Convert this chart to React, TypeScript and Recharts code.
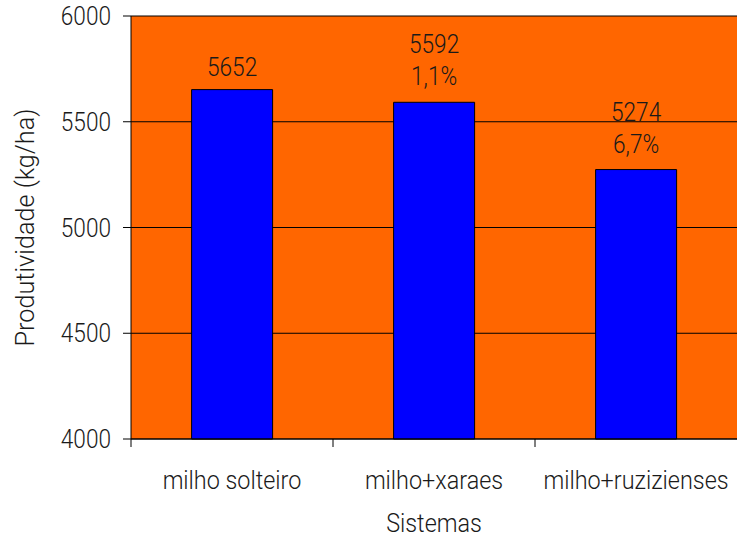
import React from "react";
import { BarChart, Bar, XAxis, YAxis, CartesianGrid, LabelList } from "recharts";

const categories = ["milho solteiro", "milho+xaraes", "milho+ruzizienses"];
const productivity = [5652, 5592, 5274];
const reduction = ["", "1,1%", "6,7%"];
const yTicks = [4000, 4500, 5000, 5500, 6000];

const data = categories.map((c, i) => ({ name: c, value: productivity[i], pct: reduction[i] }));

const FONT = "Roboto, 'DejaVu Sans', sans-serif";
const TEXT = "#1a1a1a";

const T = (props: any) => {
  const { x, y, anchor = "middle", size = 26, sx = 0.87, rotate = 0, children } = props;
  const tf = rotate
    ? `translate(${x},${y}) rotate(${rotate}) scale(${sx},1)`
    : `translate(${x},${y}) scale(${sx},1)`;
  return (
    <text
      x={0}
      y={0}
      transform={tf}
      textAnchor={anchor}
      dominantBaseline="central"
      fill={TEXT}
      fontSize={size}
      fontWeight={300}
      fontFamily={FONT}
    >
      {children}
    </text>
  );
};

const XTick = (props: any) => {
  const { x, y, payload } = props;
  const half = payload && payload.offset ? payload.offset : 101;
  return (
    <g>
      <line x1={x - half} x2={x - half} y1={y} y2={y + 8} stroke="#000" strokeWidth={1} />
      <T x={x} y={y + 41} sx={0.9}>{payload.value}</T>
    </g>
  );
};

const YTick = (props: any) => {
  const { x, y, payload } = props;
  return <T x={x} y={y} anchor="end">{payload.value}</T>;
};

const BarLabel = (props: any) => {
  const { x, y, width, index } = props;
  const cx = x + width / 2;
  const p = reduction[index];
  return (
    <g>
      {p ? (
        <>
          <T x={cx} y={y - 58}>{productivity[index]}</T>
          <T x={cx} y={y - 26}>{p}</T>
        </>
      ) : (
        <T x={cx} y={y - 23}>{productivity[index]}</T>
      )}
    </g>
  );
};

export default function App() {
  return (
    <div style={{ position: "absolute", left: 0, top: 0 }}>
      <BarChart
        width={737}
        height={538}
        data={data}
        margin={{ top: 16, right: 0, bottom: 0, left: 0 }}
        barCategoryGap="30%"
      >
        <CartesianGrid vertical={false} stroke="#000" fill="#FF6600" fillOpacity={1} />
        <XAxis
          dataKey="name"
          height={99}
          stroke="#000"
          tickLine={false}
          tickSize={0}
          tickMargin={0}
          interval={0}
          tick={<XTick />}
          label={{
            content: (p: any) => {
              const vb = p.viewBox;
              return <T x={vb.x + vb.width / 2} y={523} sx={0.9}>Sistemas</T>;
            },
          }}
        />
        <YAxis
          width={131}
          domain={[4000, 6000]}
          ticks={yTicks}
          interval={0}
          stroke="#000"
          tickSize={8}
          tickMargin={12}
          tick={<YTick />}
          label={{
            content: (p: any) => {
              const vb = p.viewBox;
              const cy = vb.y + vb.height / 2;
              return <T x={25} y={cy} rotate={-90} sx={0.97}>Produtividade (kg/ha)</T>;
            },
          }}
        />
        <Bar dataKey="value" fill="#0000FF" stroke="#000" strokeWidth={1} isAnimationActive={false}>
          <LabelList dataKey="value" content={<BarLabel />} />
        </Bar>
      </BarChart>
    </div>
  );
}
